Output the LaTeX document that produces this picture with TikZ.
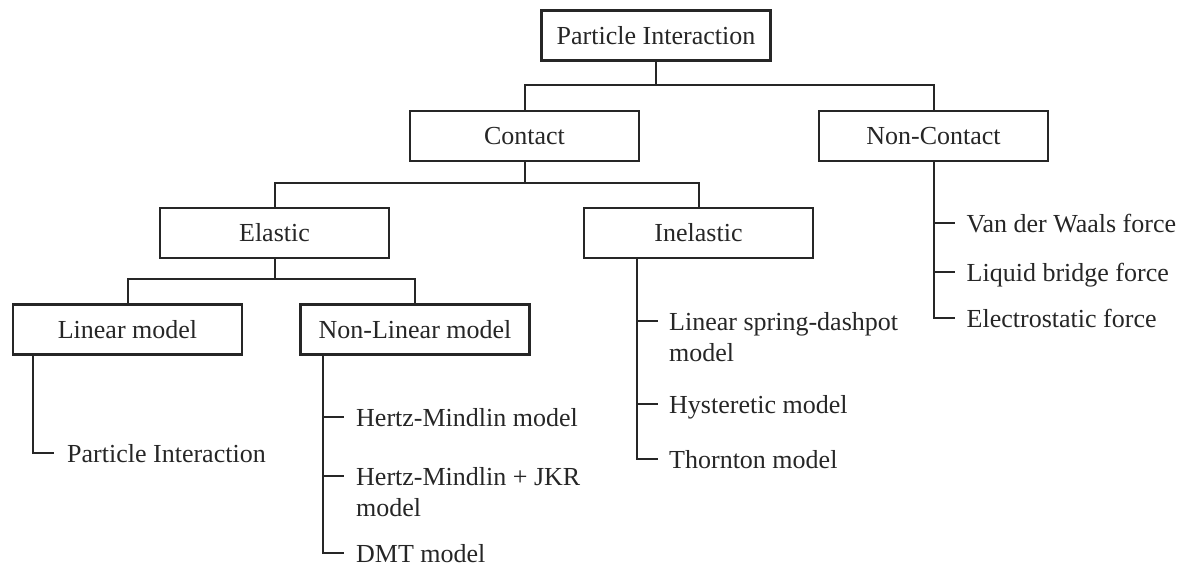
\documentclass[tikz,border=0pt]{standalone}
\usepackage{fontspec}
\setmainfont{Liberation Serif}
\usetikzlibrary{calc}
\begin{document}
\begin{tikzpicture}[x=1pt,y=-1pt,
  box/.style={draw=black!85, line width=2.2pt, minimum width=229pt, minimum height=50pt, inner sep=0pt, font=\fontsize{26}{31}\selectfont, text=black!85},
  leaf/.style={anchor=base west, inner sep=0pt, align=left, font=\fontsize{26}{31}\selectfont, text=black!85},
  wire/.style={draw=black!85, line width=2pt}]
\useasboundingbox (0,0) rectangle (1194,567);
% boxes
\node[box] (pi) at (656,35.5) {Particle Interaction};
\node[box] (con) at (524.5,136) {Contact};
\node[box] (ncon) at (933.5,136) {Non-Contact};
\node[box] (ela) at (274.5,233) {Elastic};
\node[box] (ine) at (698.5,233) {Inelastic};
\node[box] (lin) at (127.5,329.5) {Linear model};
\node[box] (nlin) at (415,329.5) {Non-Linear model};
% tree connectors
\draw[wire] (pi.south) -- ++(0,23) coordinate (b1) -| (con.north);
\draw[wire] (b1) -| (ncon.north);
\draw[wire] (con.south) -- ++(0,21) coordinate (b2) -| (ela.north);
\draw[wire] (b2) -| (ine.north);
\draw[wire] (ela.south) -- ++(0,20) coordinate (b3) -| (lin.north);
\draw[wire] (b3) -| (nlin.north);
% leaves: Linear model
\coordinate (l1) at (33,453);
\node[leaf] (lpi) at ($(l1)+(34,9)$) {Particle Interaction};
\draw[wire] (lin.south -| l1) -- (l1) -- ++(21,0);
% leaves: Non-Linear model
\coordinate (n1) at (323,417);
\coordinate (n2) at (323,476);
\coordinate (n3) at (323,553);
\node[leaf] (hm) at ($(n1)+(33,9)$) {Hertz-Mindlin model};
\node[leaf] (hmj) at ($(n2)+(33,40)$) {Hertz-Mindlin + JKR\\model};
\node[leaf] (dmt) at ($(n3)+(33,9)$) {DMT model};
\draw[wire] (nlin.south -| n1) -- (n3) -- ++(21,0);
\draw[wire] (n1) -- ++(21,0);
\draw[wire] (n2) -- ++(21,0);
% leaves: Inelastic
\coordinate (i1) at (637,321);
\coordinate (i2) at (637,404);
\coordinate (i3) at (637,459);
\node[leaf] (lsd) at ($(i1)+(32,40)$) {Linear spring-dashpot\\model};
\node[leaf] (hys) at ($(i2)+(32,9)$) {Hysteretic model};
\node[leaf] (tho) at ($(i3)+(32,9)$) {Thornton model};
\draw[wire] (ine.south -| i1) -- (i3) -- ++(21,0);
\draw[wire] (i1) -- ++(21,0);
\draw[wire] (i2) -- ++(21,0);
% leaves: Non-Contact
\coordinate (c1) at (933.5,223);
\coordinate (c2) at (933.5,272);
\coordinate (c3) at (933.5,318);
\node[leaf] (vdw) at ($(c1)+(33,9)$) {Van der Waals force};
\node[leaf] (lbf) at ($(c2)+(33,9)$) {Liquid bridge force};
\node[leaf] (esf) at ($(c3)+(33,9)$) {Electrostatic force};
\draw[wire] (ncon.south) -- (c3) -- ++(21,0);
\draw[wire] (c1) -- ++(21,0);
\draw[wire] (c2) -- ++(21,0);
\end{tikzpicture}
\end{document}
